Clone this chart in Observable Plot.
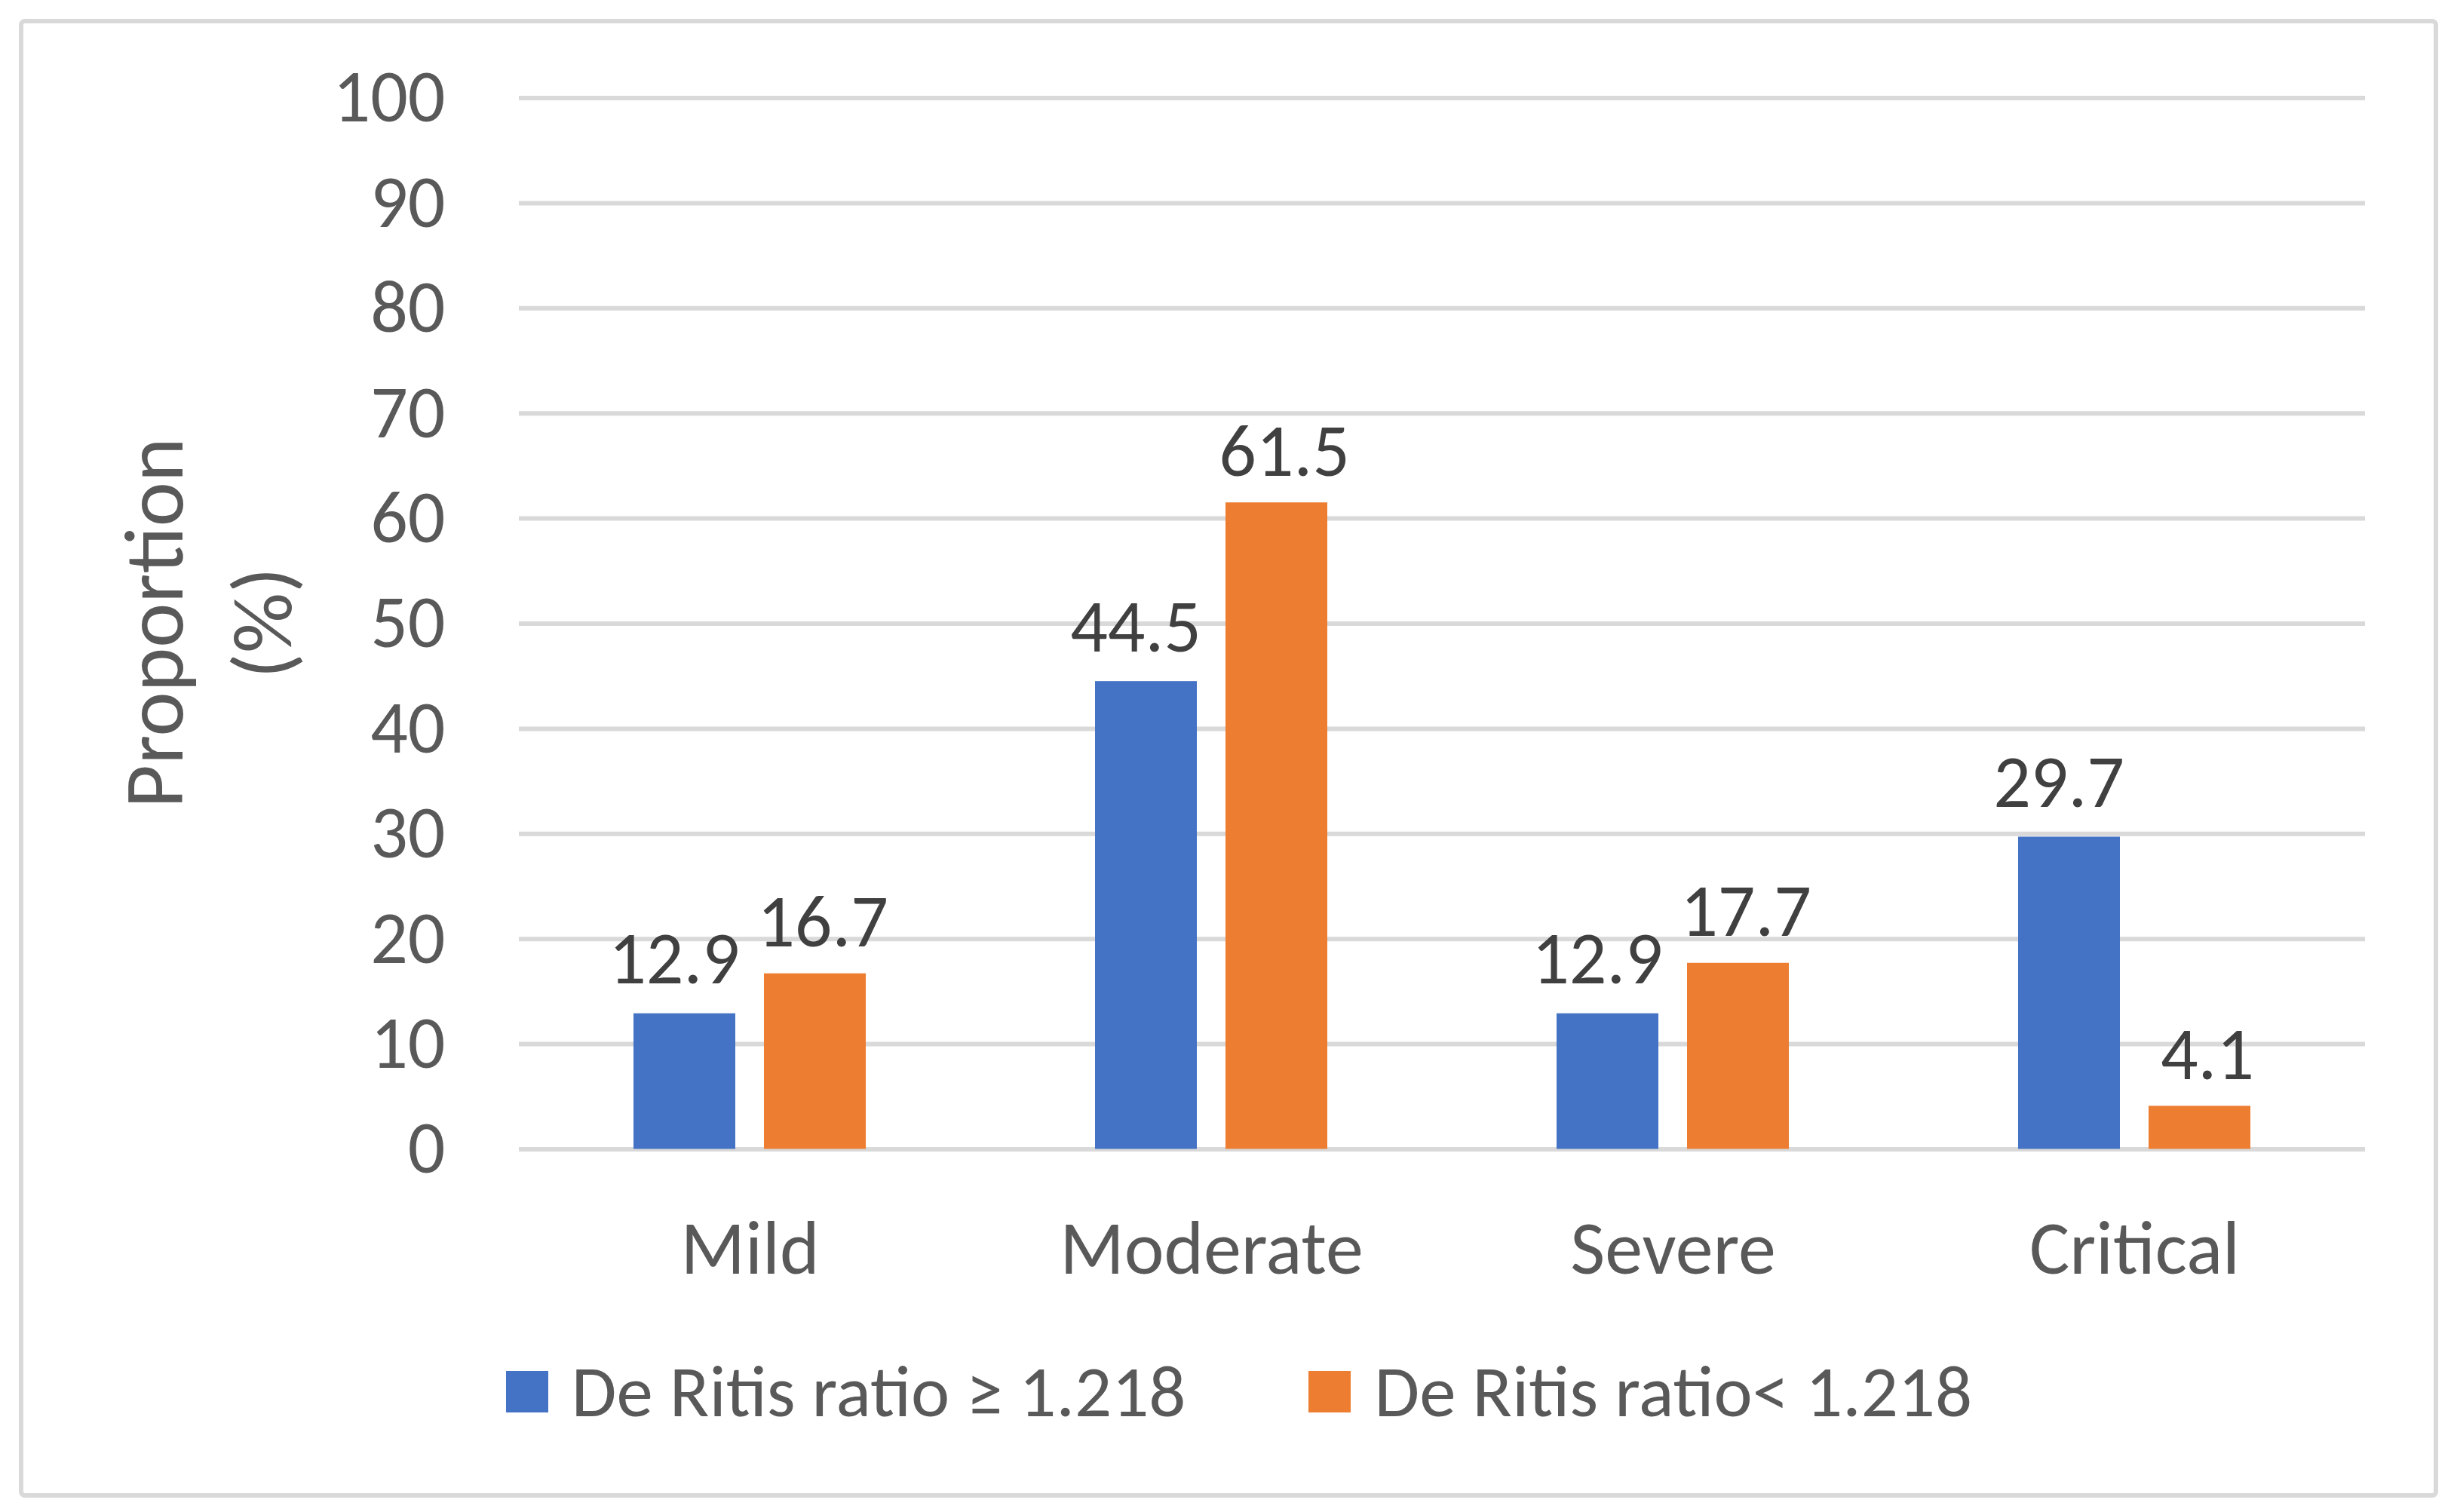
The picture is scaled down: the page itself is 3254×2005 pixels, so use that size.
<!DOCTYPE html>
<html>
<head>
<meta charset="utf-8">
<script src="https://cdn.jsdelivr.net/npm/d3@7"></script>
<script src="https://cdn.jsdelivr.net/npm/@observablehq/plot@0.6"></script>
<style>
  html, body { margin: 0; padding: 0; background: #ffffff; }
  #wrap { position: relative; width: 3254px; height: 2005px; overflow: hidden; background: #fff; }
  #frame { position: absolute; left: 25px; top: 25px; width: 3208px; height: 1961px; box-sizing: border-box;
           border: 6px solid #d9d9d9; border-radius: 8px; }
  #chart { position: absolute; left: 0; top: 0; }
  #ytitle { position: absolute; left: 276px; top: 826px; transform: translate(-50%, -50%) rotate(-90deg);
            text-align: center; white-space: nowrap; color: #595959; }
  #legend { position: absolute; left: 56px; width: 3174px; top: 1790px; height: 110px; display: flex;
            justify-content: center; align-items: center; color: #595959; white-space: nowrap; }
  .item { display: flex; align-items: center; }
  .sw { width: 56px; height: 55px; margin-right: 31px; }
</style>
</head>
<body>
<div id="wrap">
  <div id="frame"></div>
  <div id="chart"></div>
  <div id="ytitle"></div>
  <div id="legend"></div>
</div>
<script>
// ---- data ----
const categories = ["Mild", "Moderate", "Severe", "Critical"];
const series = ["De Ritis ratio ≥ 1.218", "De Ritis ratio< 1.218"];
const highRatio = [12.9, 44.5, 12.9, 29.7];
const lowRatio = [16.7, 61.5, 17.7, 4.1];
const yTicks = [0, 10, 20, 30, 40, 50, 60, 70, 80, 90, 100];
const colors = ["#4472C4", "#ED7D31"];
const yTitle = ["Proportion", "(%)"];

// ---- font choice ----
function hasFont(name) {
  const c = document.createElement("canvas").getContext("2d");
  const s = "Moderate Ritis 1.218 abcdefghijkl";
  c.font = "72px monospace"; const a = c.measureText(s).width;
  c.font = `72px "${name}", monospace`; const b = c.measureText(s).width;
  return Math.abs(a - b) > 0.5;
}
const carlito = hasFont("Carlito");
const FONT = carlito ? "Carlito, Lato, sans-serif" : "Lato, sans-serif";
const S = carlito
  ? {tick: 98, cat: 100, label: 98, legend: 97, title: 112, titleLH: 1.29}
  : {tick: 88, cat: 90, label: 88, legend: 88, title: 104, titleLH: 1.385};

const rows = categories.flatMap((c, i) => [
  {category: c, series: series[0], value: highRatio[i]},
  {category: c, series: series[1], value: lowRatio[i]}
]);
const fmt = d3.format(".1f");

const plot = Plot.plot({
  width: 3254,
  height: 2005,
  marginLeft: 687,
  marginRight: 117,
  marginTop: 129.5,
  marginBottom: 481.5,
  style: {fontFamily: FONT, background: "transparent", color: "#595959", overflow: "visible"},
  y: {domain: [0, 100], label: null},
  fx: {domain: categories, padding: 0, label: null},
  x: {domain: series, paddingInner: 0.218, paddingOuter: 0.869, axis: null},
  color: {domain: series, range: colors},
  marks: [
    Plot.gridY(yTicks, {stroke: "#d9d9d9", strokeOpacity: 1, strokeWidth: 6}),
    Plot.axisY(yTicks, {tickSize: 0, tickPadding: 98, fontSize: S.tick, fill: "#595959", label: null, tickFormat: d => String(d)}),
    Plot.axisFx({anchor: "bottom", tickSize: 0, tickPadding: 94, fontSize: S.cat, fill: "#595959", label: null}),
    Plot.barY(rows, {fx: "category", x: "series", y: "value", fill: "series"}),
    Plot.text(rows.filter(d => d.series === series[0]), {
      fx: "category", x: "series", y: "value", text: d => fmt(d.value),
      lineAnchor: "bottom", dy: -40, dx: -14, fontSize: S.label, fill: "#404040"
    }),
    Plot.text(rows.filter(d => d.series === series[1]), {
      fx: "category", x: "series", y: "value", text: d => fmt(d.value),
      lineAnchor: "bottom", dy: -36, dx: 10, fontSize: S.label, fill: "#404040"
    })
  ]
});
document.getElementById("chart").appendChild(plot);

// y-axis title
const yt = document.getElementById("ytitle");
yt.style.fontFamily = FONT;
yt.style.fontSize = S.title + "px";
yt.style.lineHeight = S.titleLH;
yt.innerHTML = yTitle.map(t => `<div>${t}</div>`).join("");

// legend
const lg = document.getElementById("legend");
lg.style.fontFamily = FONT;
lg.style.fontSize = S.legend + "px";
series.forEach((s, i) => {
  const it = document.createElement("div");
  it.className = "item";
  if (i > 0) it.style.marginLeft = "163px";
  const sw = document.createElement("div");
  sw.className = "sw";
  sw.style.background = colors[i];
  const tx = document.createElement("span");
  tx.textContent = s;
  it.appendChild(sw); it.appendChild(tx);
  lg.appendChild(it);
});
</script>
</body>
</html>
